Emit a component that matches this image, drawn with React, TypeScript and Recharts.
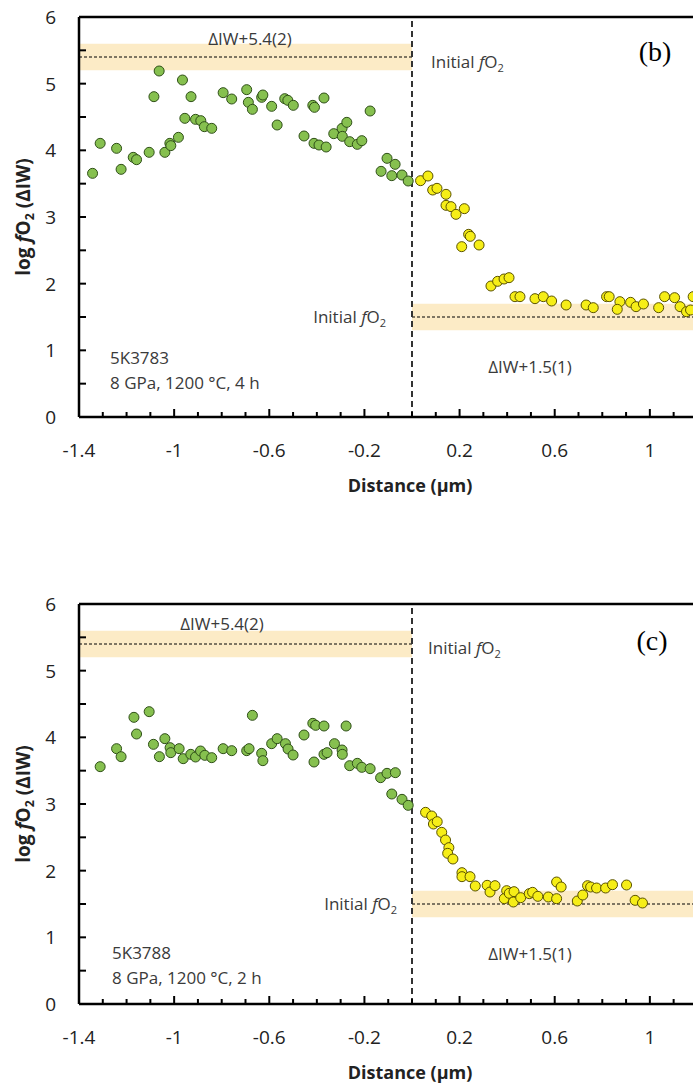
import { ScatterChart, Scatter, XAxis, YAxis, ReferenceArea, ReferenceLine } from "recharts";

/* ===== axis ticks ===== */
const xTicks = [-1.4, -1.3, -1.2, -1.1, -1, -0.9, -0.8, -0.7, -0.6, -0.5, -0.4, -0.3, -0.2, -0.1, 0, 0.1, 0.2, 0.3, 0.4, 0.5, 0.6, 0.7, 0.8, 0.9, 1, 1.1, 1.2, 1.3, 1.4];
const xTickLabels = [-1.4, -1, -0.6, -0.2, 0.2, 0.6, 1];
const yTicks = [0, 0.5, 1, 1.5, 2, 2.5, 3, 3.5, 4, 4.5, 5, 5.5, 6];
const yTickLabels = [0, 1, 2, 3, 4, 5, 6];

/* ===== (b) 5K3783 ===== */
const bLeftX = [-1.343, -1.311, -1.242, -1.223, -1.172, -1.158, -1.105, -1.085, -1.063, -1.039, -1.018, -1.014, -0.982, -0.965, -0.955, -0.929, -0.91, -0.888, -0.873, -0.842, -0.794, -0.758, -0.695, -0.688, -0.671, -0.632, -0.627, -0.59, -0.567, -0.535, -0.522, -0.499, -0.454, -0.417, -0.41, -0.412, -0.391, -0.37, -0.361, -0.329, -0.294, -0.293, -0.274, -0.262, -0.23, -0.211, -0.176, -0.13, -0.105, -0.071, -0.085, -0.042, -0.016];
const bLeftY = [3.655, 4.105, 4.03, 3.715, 3.895, 3.86, 3.97, 4.805, 5.19, 3.97, 4.105, 4.07, 4.195, 5.055, 4.48, 4.805, 4.465, 4.445, 4.355, 4.33, 4.865, 4.77, 4.91, 4.72, 4.615, 4.795, 4.83, 4.66, 4.38, 4.775, 4.75, 4.675, 4.215, 4.675, 4.645, 4.105, 4.08, 4.785, 4.05, 4.25, 4.33, 4.21, 4.42, 4.13, 4.09, 4.145, 4.59, 3.685, 3.88, 3.79, 3.62, 3.63, 3.54];
const bRightX = [0.036, 0.067, 0.087, 0.105, 0.143, 0.143, 0.164, 0.185, 0.22, 0.238, 0.245, 0.209, 0.282, 0.332, 0.36, 0.387, 0.408, 0.433, 0.454, 0.517, 0.552, 0.587, 0.648, 0.732, 0.762, 0.818, 0.829, 0.874, 0.863, 0.919, 0.942, 0.973, 1.037, 1.062, 1.104, 1.127, 1.154, 1.171, 1.182];
const bRightY = [3.545, 3.615, 3.405, 3.43, 3.34, 3.175, 3.155, 3.04, 3.125, 2.74, 2.71, 2.555, 2.58, 1.965, 2.035, 2.07, 2.09, 1.805, 1.805, 1.775, 1.805, 1.74, 1.68, 1.68, 1.64, 1.805, 1.805, 1.73, 1.615, 1.72, 1.655, 1.695, 1.64, 1.805, 1.79, 1.655, 1.58, 1.605, 1.805];

/* ===== (c) 5K3788 ===== */
const cLeftX = [-1.311, -1.242, -1.223, -1.169, -1.158, -1.105, -1.087, -1.062, -1.039, -1.017, -1.014, -0.979, -0.962, -0.93, -0.91, -0.889, -0.871, -0.842, -0.794, -0.758, -0.695, -0.685, -0.671, -0.632, -0.627, -0.59, -0.567, -0.532, -0.521, -0.5, -0.454, -0.417, -0.405, -0.37, -0.412, -0.37, -0.357, -0.326, -0.294, -0.293, -0.277, -0.262, -0.23, -0.211, -0.176, -0.132, -0.105, -0.07, -0.085, -0.042, -0.016];
const cLeftY = [3.56, 3.83, 3.71, 4.3, 4.05, 4.385, 3.895, 3.71, 3.98, 3.845, 3.77, 3.83, 3.68, 3.745, 3.705, 3.795, 3.73, 3.695, 3.83, 3.8, 3.8, 3.83, 4.33, 3.76, 3.65, 3.905, 3.98, 3.905, 3.825, 3.735, 4.035, 4.21, 4.18, 4.17, 3.63, 3.745, 3.77, 3.905, 3.81, 3.745, 4.17, 3.575, 3.61, 3.55, 3.53, 3.395, 3.46, 3.47, 3.15, 3.07, 2.98];
const cRightX = [0.057, 0.083, 0.09, 0.106, 0.125, 0.141, 0.155, 0.15, 0.172, 0.21, 0.21, 0.244, 0.266, 0.316, 0.328, 0.349, 0.398, 0.388, 0.409, 0.429, 0.426, 0.457, 0.493, 0.507, 0.529, 0.573, 0.608, 0.627, 0.608, 0.695, 0.718, 0.738, 0.751, 0.776, 0.814, 0.843, 0.902, 0.938, 0.969];
const cRightY = [2.875, 2.82, 2.7, 2.735, 2.575, 2.46, 2.345, 2.26, 2.175, 1.97, 1.91, 1.91, 1.77, 1.78, 1.68, 1.775, 1.7, 1.58, 1.66, 1.685, 1.53, 1.595, 1.655, 1.675, 1.615, 1.605, 1.83, 1.755, 1.58, 1.545, 1.635, 1.775, 1.755, 1.74, 1.74, 1.79, 1.785, 1.555, 1.515];

const toPoints = (xs: number[], ys: number[]) => xs.map((x, i) => ({ x, y: ys[i] }));

const FONT = "'Open Sans', sans-serif";
const TEXT = "#3a3a3a";

const GreenDot = (p: any) => (
  <circle cx={p.cx} cy={p.cy} r={5} fill="#86c04f" stroke="#2f4f18" strokeWidth={1} />
);
const YellowDot = (p: any) => (
  <circle cx={p.cx} cy={p.cy} r={5} fill="#f6ee17" stroke="#5a5200" strokeWidth={1} />
);

const has = (list: number[], v: number) => list.some((l) => Math.abs(l - v) < 1e-6);

const XTick = ({ x, y, payload }: any) => {
  const major = has(xTickLabels, payload.value);
  return (
    <g>
      <line x1={x} x2={x} y1={y} y2={y - (major ? 8 : 5)} stroke="#000" strokeWidth={2} />
      {major && (
        <text x={x} y={y + 40} textAnchor="middle" fontFamily={FONT} fontSize={19} fill="#222">
          {String(payload.value)}
        </text>
      )}
    </g>
  );
};

const YTick = ({ x, y, payload }: any) => (
  <g>
    <line x1={x} x2={x + 7} y1={y} y2={y} stroke="#000" strokeWidth={2} />
    {has(yTickLabels, payload.value) && (
      <text x={x - 23} y={y + 7} textAnchor="end" fontFamily={FONT} fontSize={19} fill="#222">
        {String(payload.value)}
      </text>
    )}
  </g>
);

const FO2 = () => (
  <>
    <i>f</i>O<span style={{ fontSize: "0.65em", position: "relative", top: "0.35em" }}>2</span>
  </>
);

const Note = ({ x, y, align = "left", children, style }: any) => {
  const tx = align === "center" ? "-50%" : align === "right" ? "-100%" : "0";
  return (
    <div
      style={{
        position: "absolute",
        left: x,
        top: y,
        transform: `translate(${tx}, -50%)`,
        whiteSpace: "nowrap",
        lineHeight: 1,
        fontFamily: FONT,
        fontSize: 17,
        color: TEXT,
        ...style,
      }}
    >
      {children}
    </div>
  );
};

const Panel = ({ top, left, right, letter, sample, duration, pos }: any) => (
  <div style={{ position: "absolute", top, left: 0, width: 760, height: 500 }}>
    <ScatterChart width={760} height={500} margin={{ top: 17, right: 15, left: 0, bottom: 0 }}>
      <XAxis
        type="number"
        dataKey="x"
        domain={[-1.4, 1.4]}
        ticks={xTicks}
        interval={0}
        allowDataOverflow
        height={83}
        tickSize={0}
        tickMargin={0}
        tick={<XTick />}
        axisLine={{ stroke: "#000", strokeWidth: 2.5 }}
      />
      <YAxis
        type="number"
        dataKey="y"
        domain={[0, 6]}
        ticks={yTicks}
        interval={0}
        allowDataOverflow
        width={79}
        tickSize={0}
        tickMargin={0}
        tick={<YTick />}
        axisLine={{ stroke: "#000", strokeWidth: 2.5 }}
      />
      <ReferenceArea x1={-1.4} x2={0} y1={5.2} y2={5.6} fill="#fcebc6" fillOpacity={1} stroke="none" />
      <ReferenceArea x1={0} x2={1.4} y1={1.3} y2={1.7} fill="#fcebc6" fillOpacity={1} stroke="none" />
      <ReferenceLine segment={[{ x: -1.4, y: 5.4 }, { x: 0, y: 5.4 }]} stroke="#000" strokeWidth={1} strokeDasharray="3 2" />
      <ReferenceLine segment={[{ x: 0, y: 1.5 }, { x: 1.4, y: 1.5 }]} stroke="#000" strokeWidth={1} strokeDasharray="3 2" />
      <ReferenceLine x={0} stroke="#333" strokeWidth={2} strokeDasharray="6 4" />
      <ReferenceLine y={6} stroke="#000" strokeWidth={2.5} />
      <Scatter data={toPoints(left[0], left[1])} shape={GreenDot} isAnimationActive={false} />
      <Scatter data={toPoints(right[0], right[1])} shape={YellowDot} isAnimationActive={false} />
    </ScatterChart>

    <Note x={23} y={217} align="center" style={{ transform: "translate(-50%, -50%) rotate(-90deg)", fontWeight: 700, fontSize: 19, color: "#222" }}>
      log <FO2 /> (ΔIW)
    </Note>
    <Note x={410} y={485} align="center" style={{ fontWeight: 700, fontSize: 18, color: "#222" }}>
      Distance (µm)
    </Note>

    <Note x={pos.topLabelX} y={pos.topLabelY} align="center">ΔIW+5.4(2)</Note>
    <Note x={pos.initTopX} y={pos.initTopY}>Initial <FO2 /></Note>
    <Note x={pos.letterX} y={pos.letterY} align="center" style={{ fontFamily: "'Liberation Serif', serif", fontSize: 28, color: "#000" }}>
      {letter}
    </Note>
    <Note x={pos.initLowX} y={pos.initLowY} align="right">Initial <FO2 /></Note>
    <Note x={530} y={pos.lowLabelY} align="center">ΔIW+1.5(1)</Note>
    <Note x={pos.sampleX} y={pos.sampleY}>{sample}</Note>
    <Note x={pos.sampleX} y={pos.sampleY + 25}>8 GPa, 1200 °C, {duration}</Note>
  </div>
);

export default function App() {
  return (
    <div style={{ position: "fixed", top: 0, left: 0, width: 693, height: 1091, overflow: "hidden", background: "#fff" }}>
      <Panel
        top={0}
        left={[bLeftX, bLeftY]}
        right={[bRightX, bRightY]}
        letter="(b)"
        sample="5K3783"
        duration="4 h"
        pos={{ topLabelX: 250, topLabelY: 38, initTopX: 431, initTopY: 61, letterX: 655, letterY: 52, initLowX: 386, initLowY: 316, lowLabelY: 366, sampleX: 110, sampleY: 357 }}
      />
      <Panel
        top={587}
        left={[cLeftX, cLeftY]}
        right={[cRightX, cRightY]}
        letter="(c)"
        sample="5K3788"
        duration="2 h"
        pos={{ topLabelX: 222, topLabelY: 36, initTopX: 428, initTopY: 60, letterX: 652, letterY: 54, initLowX: 397, initLowY: 316, lowLabelY: 366, sampleX: 112, sampleY: 365 }}
      />
    </div>
  );
}
